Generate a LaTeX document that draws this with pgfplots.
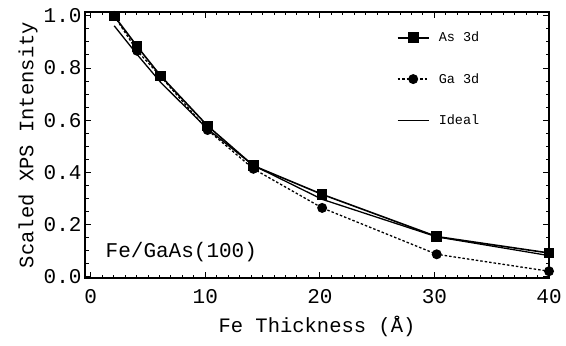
\documentclass[border=0pt]{standalone}
\usepackage{fontspec}
\setmainfont{Liberation Mono}
\usepackage{pgfplots}
\pgfplotsset{compat=1.18}
\begin{document}
\begin{tikzpicture}
\begin{axis}[
  scale only axis, width=464pt, height=266pt,
  xmin=-0.5, xmax=40, ymin=-0.006, ymax=1.015,
  axis line style={line width=1.5pt},
  tick align=inside, major tick length=6pt, minor tick length=3.5pt,
  every tick/.style={line width=1pt, black},
  xtick={0,10,20,30,40}, minor x tick num=9,
  ytick={0,0.2,0.4,0.6,0.8,1.0}, minor y tick num=3,
  /pgf/number format/assume math mode=true,
  yticklabel style={/pgf/number format/fixed, /pgf/number format/fixed zerofill, /pgf/number format/precision=1},
  ticklabel style={font=\fontsize{21}{23}\selectfont},
  xticklabel style={yshift=-8pt},
  label style={font=\fontsize{20.5}{23}\selectfont},
  xlabel={Fe Thickness (Å)},
  ylabel={Scaled XPS Intensity},
  xlabel style={at={([yshift=-48pt]axis description cs:0.5,0)}, anchor=center},
  ylabel style={at={([xshift=-57pt]axis description cs:0,0.5)}, anchor=center},
  legend style={at={(0.665,0.94)}, anchor=north west, draw=none, fill=none,
    font=\fontsize{13.5}{15}\selectfont, row sep=26pt,
    legend cell align=left},
  legend image code/.code={\draw[mark repeat=2,mark phase=2] plot coordinates {(0cm,0cm) (0.55cm,0cm) (1.1cm,0cm)};\path (1.35cm,0cm);},
]
\addplot[black, line width=1.6pt, mark=square*, mark size=4.5pt, mark options={solid}]
  coordinates {(2.05,1.0) (4.05,0.883) (6.1,0.77) (10.2,0.578) (14.2,0.425) (20.2,0.315) (30.2,0.153) (40,0.09)};
\addlegendentry{As 3d}
\addplot[black, line width=1.3pt, dash pattern=on 2.5pt off 2pt, mark=*, mark size=4.3pt, mark options={solid}]
  coordinates {(2.05,1.0) (4.05,0.866) (6.1,0.768) (10.2,0.562) (14.2,0.413) (20.2,0.263) (30.2,0.085) (40,0.02)};
\addlegendentry{Ga 3d}
\addplot[black, line width=1.3pt]
  coordinates {(2.05,0.962) (4.05,0.852) (6.1,0.745) (10.2,0.566) (14.2,0.426) (20.2,0.296) (30.2,0.152) (40,0.08)};
\addlegendentry{Ideal}
\node[anchor=west, font=\fontsize{21}{23}\selectfont] at (axis cs:1.0,0.094) {Fe/GaAs(100)};
\coordinate (ll) at (rel axis cs:0,0);
\coordinate (ur) at (rel axis cs:1,1);
\end{axis}
\pgfresetboundingbox
\path[use as bounding box] ([xshift=-85pt,yshift=-67pt]ll) rectangle ([xshift=17pt,yshift=12pt]ur);
\end{tikzpicture}
\end{document}
